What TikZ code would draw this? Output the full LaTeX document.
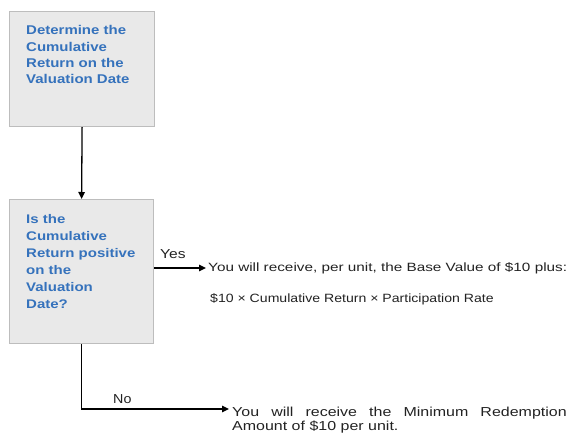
\documentclass[tikz,border=0pt]{standalone}
\usepackage{graphicx}
\usepackage{fontspec}
\setmainfont{Liberation Sans}
\usetikzlibrary{arrows.meta}
\definecolor{boxfill}{HTML}{E9E9E9}
\definecolor{boxline}{HTML}{BDBDBD}
\definecolor{qblue}{HTML}{3572BC}
\definecolor{txt}{HTML}{222222}
\newcommand{\widen}[2]{\scalebox{#1}[1]{#2}}
\begin{document}
\begin{tikzpicture}[x=1pt,y=-1pt,
  box/.style={draw=boxline,fill=boxfill,line width=1.2pt,inner sep=0pt},
  boxtext/.style={anchor=north west,align=left,text=qblue,inner sep=0pt},
  body/.style={anchor=base west,inner sep=0pt,text=txt,font=\fontsize{12}{14}\selectfont},
  lbl/.style={anchor=base west,inner sep=0pt,text=txt,font=\fontsize{13}{15}\selectfont},
  conn/.style={line width=1.3pt,-{Triangle[length=7pt,width=6.5pt]}}]
\useasboundingbox (0,0) rectangle (567,435);
\node[box,minimum width=145pt,minimum height=115pt,anchor=north west] (b1) at (9,11) {};
\node[box,minimum width=144pt,minimum height=144pt,anchor=north west] (b2) at (9,199) {};
\node[boxtext] (t1) at (26,23) {\widen{1.18}{\fontsize{12.7}{16.4}\selectfont\bfseries\begin{tabular}{@{}l@{}}Determine the\\Cumulative\\Return on the\\Valuation Date\end{tabular}}};
\node[boxtext] (t2) at (26,211) {\widen{1.2}{\fontsize{12.5}{17}\selectfont\bfseries\begin{tabular}{@{}l@{}}Is the\\Cumulative\\Return positive\\on the\\Valuation\\Date?\end{tabular}}};
\node[body] (yes1) at (208,272) {\widen{1.275}{You will receive, per unit, the Base Value of \$10 plus:}};
\node[body] (yes2) at (210,303) {\widen{1.174}{\$10 × Cumulative Return × Participation Rate}};
\node[lbl] (ylbl) at (160,259) {\widen{1.2}{Yes}};
\node[lbl] (nlbl) at (113,403) {\widen{1.1}{No}};
\coordinate (yend) at (206,268);
\coordinate (nend) at (229,409);
\node[body,font=\fontsize{13}{15}\selectfont] (no1) at (232,416) {\widen{1.23}{\makebox[272pt][s]{You will receive the Minimum Redemption}}};
\node[body,font=\fontsize{13}{15}\selectfont] (no2) at (232,430) {\widen{1.23}{Amount of \$10 per unit.}};
\draw[conn] (b1.south) -- (b2.north);
\draw[conn] (b2.east |- yend) -- (yend);
\draw[conn] (b2.south) |- (nend);
\end{tikzpicture}
\end{document}
